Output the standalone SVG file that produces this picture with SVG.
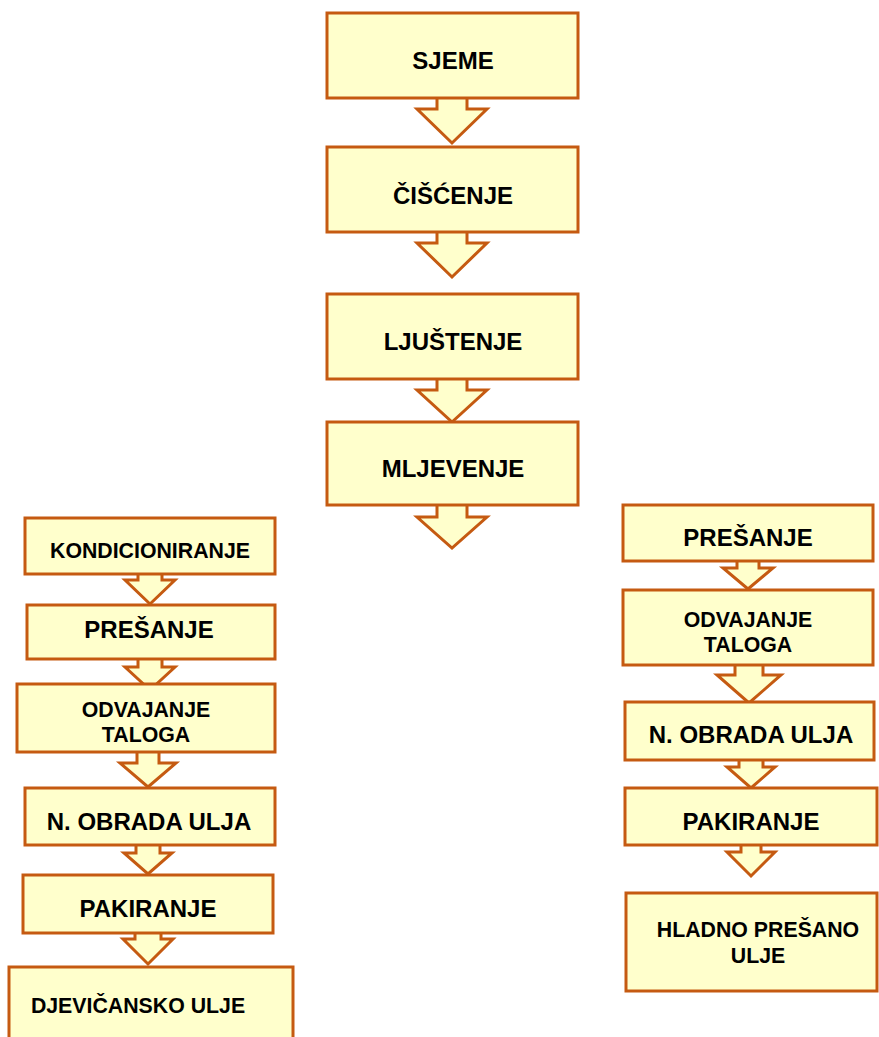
<svg xmlns="http://www.w3.org/2000/svg" width="879" height="1037" viewBox="0 0 879 1037">
<style>
.b{fill:#FFFFCC;stroke:#C55A11;stroke-width:3}
.a{fill:#FFFFCC;stroke:#C55A11;stroke-width:3;stroke-linejoin:miter}
.t{font-family:"Liberation Sans",Arial,sans-serif;font-weight:bold;fill:#000;text-anchor:middle}
.L{font-size:24px}
.S{font-size:21.3px}
</style>
<rect width="879" height="1037" fill="#fff"/>
<g id="connectors">
<path class="a" d="M437,96 V109 H417 L452,143 L487,109 H467 V96 Z"/>
<path class="a" d="M437,230 V243 H417 L452,277 L487,243 H467 V230 Z"/>
<path class="a" d="M437,377 V390 H417 L452,422 L487,390 H467 V377 Z"/>
<path class="a" d="M437,503 V517 H417 L452,548 L487,517 H467 V503 Z"/>
<path class="a" d="M138,572 V580 H125 L150,604 L175,580 H162 V572 Z"/>
<path class="a" d="M138,657 V667 H125 L150,690 L175,667 H162 V657 Z"/>
<path class="a" d="M137,750 V763 H120 L148,787 L176,763 H159 V750 Z"/>
<path class="a" d="M136,843 V853 H124 L148,874 L172,853 H160 V843 Z"/>
<path class="a" d="M135,931 V939 H123 L148,964 L173,939 H161 V931 Z"/>
<path class="a" d="M737,559 V568 H723 L748,589 L773,568 H759 V559 Z"/>
<path class="a" d="M735,663 V675 H717 L749,703 L781,675 H763 V663 Z"/>
<path class="a" d="M739,758 V767 H727 L751,788 L775,767 H763 V758 Z"/>
<path class="a" d="M741,843 V852 H727 L751,876 L775,852 H761 V843 Z"/>
</g>
<g id="sjeme"><rect class="b" x="327" y="13" width="251" height="85"/><text class="t L" x="453" y="69">SJEME</text></g>
<g id="ciscenje"><rect class="b" x="327" y="147" width="251" height="85"/><text class="t L" x="453" y="204">ČIŠĆENJE</text></g>
<g id="ljustenje"><rect class="b" x="327" y="294" width="251" height="85"/><text class="t L" x="453" y="350">LJUŠTENJE</text></g>
<g id="mljevenje"><rect class="b" x="327" y="422" width="251" height="83"/><text class="t L" x="453" y="477">MLJEVENJE</text></g>
<g id="kondicioniranje"><rect class="b" x="25" y="518" width="250" height="56"/><text class="t S" x="150" y="558">KONDICIONIRANJE</text></g>
<g id="presanje-l"><rect class="b" x="27" y="605" width="248" height="54"/><text class="t L" x="149" y="638">PREŠANJE</text></g>
<g id="odvajanje-l"><rect class="b" x="17" y="684" width="258" height="68"/><text class="t S" x="146" y="717">ODVAJANJE</text><text class="t S" x="146" y="742">TALOGA</text></g>
<g id="obrada-l"><rect class="b" x="25" y="788" width="250" height="57"/><text class="t L" x="149" y="830">N. OBRADA ULJA</text></g>
<g id="pakiranje-l"><rect class="b" x="23" y="875" width="250" height="58"/><text class="t L" x="148" y="917">PAKIRANJE</text></g>
<g id="djevicansko"><rect class="b" x="9" y="967" width="284" height="80"/><text class="t S" x="138" y="1013">DJEVIČANSKO ULJE</text></g>
<g id="presanje-r"><rect class="b" x="623" y="505" width="250" height="56"/><text class="t L" x="748" y="546">PREŠANJE</text></g>
<g id="odvajanje-r"><rect class="b" x="623" y="590" width="250" height="75"/><text class="t S" x="748" y="627">ODVAJANJE</text><text class="t S" x="748" y="652">TALOGA</text></g>
<g id="obrada-r"><rect class="b" x="625" y="702" width="249" height="58"/><text class="t L" x="751" y="743">N. OBRADA ULJA</text></g>
<g id="pakiranje-r"><rect class="b" x="625" y="788" width="252" height="57"/><text class="t L" x="751" y="830">PAKIRANJE</text></g>
<g id="hladno"><rect class="b" x="626" y="893" width="251" height="98"/><text class="t S" x="758" y="937">HLADNO PREŠANO</text><text class="t S" x="758" y="963">ULJE</text></g>
</svg>
